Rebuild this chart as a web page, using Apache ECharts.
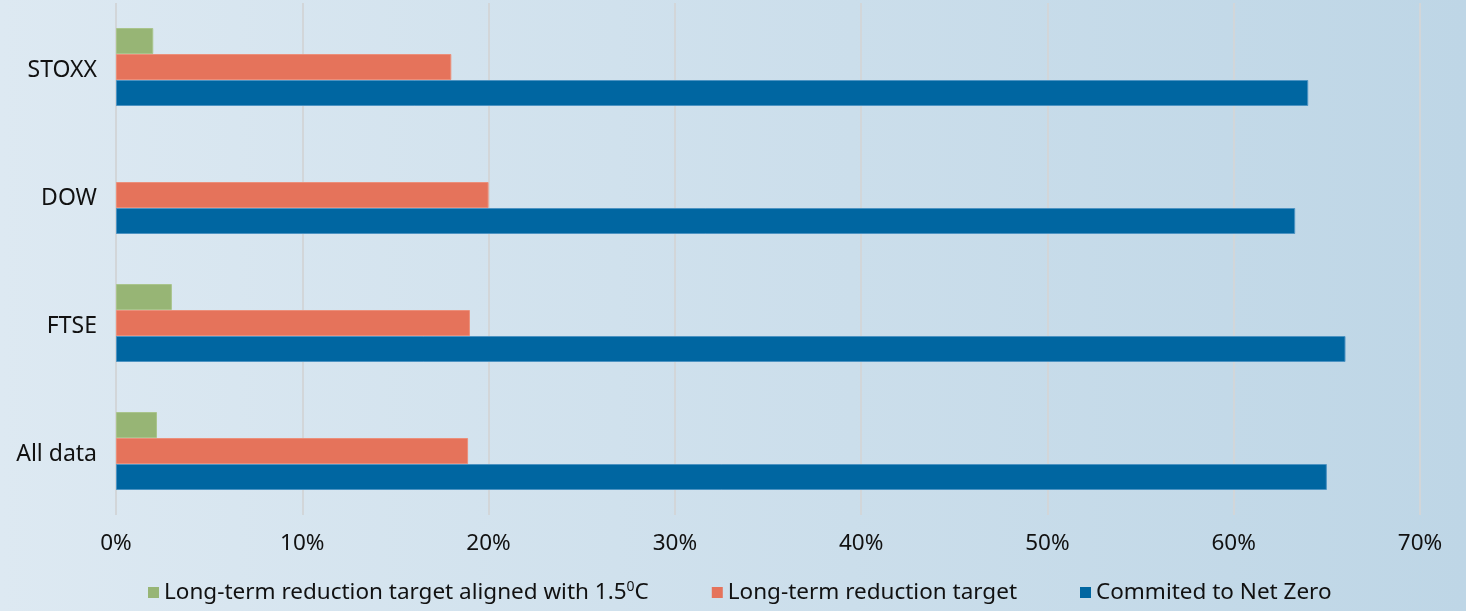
<!DOCTYPE html>
<html>
<head>
<meta charset="utf-8">
<title>Net zero commitments by index</title>
<script src="https://cdn.jsdelivr.net/npm/echarts@6/dist/echarts.min.js"></script>
<style>
  html, body { margin: 0; padding: 0; }
  #chart { width: 1466px; height: 611px; }
</style>
</head>
<body>
<div id="chart"></div>
<script>
// Index groups, top to bottom
const categories = ['STOXX', 'DOW', 'FTSE', 'All data'];

// Share of companies (%) in each group
const aligned15 = [2, null, 3, 2.2];          // Long-term reduction target aligned with 1.5°C
const longTermTarget = [18, 20, 19, 18.9];    // Long-term reduction target
const netZero = [64, 63.3, 66, 65];           // Commited to Net Zero

const xTicks = [0, 10, 20, 30, 40, 50, 60, 70];

const seriesNames = [
  'Long-term reduction target aligned with 1.5⁰C',
  'Long-term reduction target',
  'Commited to Net Zero'
];

const chart = echarts.init(document.getElementById('chart'), null, { renderer: 'canvas' });

const textColor = '#111111';
const fontFamily = '"Noto Sans", "Open Sans", sans-serif';

function barSeries(name, data, color, border) {
  return {
    name: name,
    type: 'bar',
    data: data,
    barWidth: 26,
    barGap: '0%',
    itemStyle: { color: color, borderColor: border, borderWidth: 1 },
    emphasis: { disabled: true }
  };
}

chart.setOption({
  animation: false,
  backgroundColor: new echarts.graphic.LinearGradient(0, 0, 1, 0, [
    { offset: 0, color: '#dde9f2' },
    { offset: 1, color: '#bed6e6' }
  ]),
  textStyle: { fontFamily: fontFamily, color: textColor },
  grid: { left: 116, right: 46, top: 3, bottom: 96, containLabel: false },
  legend: {
    bottom: 2,
    left: 143,
    itemWidth: 11,
    itemHeight: 11,
    itemGap: 63,
    icon: 'rect',
    data: seriesNames,
    itemStyle: { borderWidth: 0 },
    textStyle: {
      fontFamily: fontFamily,
      fontSize: 22.5,
      color: textColor,
      rich: {
        sup: { fontSize: 14, verticalAlign: 'top', padding: [0, 0, 10, 0], color: textColor, fontFamily: fontFamily }
      }
    },
    formatter: function (name) {
      return name.replace('⁰', '{sup|0}');
    }
  },
  xAxis: {
    type: 'value',
    min: xTicks[0],
    max: xTicks[xTicks.length - 1],
    interval: 10,
    axisLine: { show: false },
    axisTick: { show: false },
    splitLine: { show: true, lineStyle: { color: '#d2d6d9', width: 2 } },
    axisLabel: {
      formatter: '{value}%',
      fontSize: 22.5,
      color: textColor,
      margin: 17
    }
  },
  yAxis: {
    type: 'category',
    data: categories,
    inverse: true,
    axisLine: { show: false },
    axisTick: { show: false },
    axisLabel: {
      margin: 19,
      formatter: function (value) { return '{c|' + value + '}'; },
      rich: {
        c: { fontSize: 23, color: textColor, fontFamily: fontFamily, padding: [7, 0, 0, 0] }
      }
    }
  },
  series: [
    barSeries(seriesNames[0], aligned15, '#97b575', '#a9c48c'),
    barSeries(seriesNames[1], longTermTarget, '#e5735b', '#eb8f7b'),
    barSeries(seriesNames[2], netZero, '#0066a1', '#4d93c2')
  ]
});
</script>
</body>
</html>
